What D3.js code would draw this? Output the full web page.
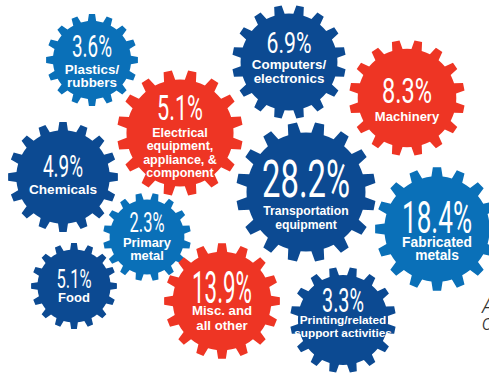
<!DOCTYPE html>
<html>
<head>
<meta charset="utf-8">
<script src="https://cdn.jsdelivr.net/npm/d3@7"></script>
<style>
  html, body { margin: 0; padding: 0; background: #ffffff; overflow: hidden; }
  svg { display: block; }
</style>
</head>
<body>
<svg id="chart" width="489" height="373"></svg>
<script>
// ---- data ----
const categories = [
  "Plastics/rubbers",
  "Electrical equipment, appliance, & component",
  "Computers/electronics",
  "Machinery",
  "Transportation equipment",
  "Fabricated metals",
  "Chemicals",
  "Primary metal",
  "Food",
  "Misc. and all other",
  "Printing/related support activities"
];
const shares = [3.6, 5.1, 6.9, 8.3, 28.2, 18.4, 4.9, 2.3, 5.1, 13.9, 3.3];
const labelLines = [
  ["Plastics/", "rubbers"],
  ["Electrical", "equipment,", "appliance, &", "component"],
  ["Computers/", "electronics"],
  ["Machinery"],
  ["Transportation", "equipment"],
  ["Fabricated", "metals"],
  ["Chemicals"],
  ["Primary", "metal"],
  ["Food"],
  ["Misc. and", "all other"],
  ["Printing/related", "support activities"]
];
const colorGroup = ["mid", "red", "navy", "red", "navy", "mid", "navy", "mid", "navy", "red", "navy"];

// ---- layout (hand-placed infographic) ----
// cx, cy, r, rot (fraction of pitch), pct baseline, pct cap height, pct width, first label baseline, line step, label size
const layout = [
  {cx: 92,  cy: 60,  r: 46, rot: 0,   pb: 57,  cap: 22, pw: 40, lb: 74,  ls: 13,   fs: 13.4},
  {cx: 180, cy: 133, r: 63, rot: 0.5, pb: 120, cap: 25, pw: 46, lb: 137, ls: 13.4, fs: 12.5},
  {cx: 289, cy: 62,  r: 57, rot: 0.5, pb: 53,  cap: 21, pw: 45, lb: 69,  ls: 14,   fs: 13.4},
  {cx: 407, cy: 98,  r: 58, rot: 0.5, pb: 103, cap: 25, pw: 50, lb: 121, ls: 14,   fs: 13},
  {cx: 306, cy: 192, r: 70, rot: 0.5, pb: 197, cap: 37, pw: 88, lb: 215, ls: 14,   fs: 12.2},
  {cx: 437, cy: 229, r: 62, rot: 0,   pb: 233, cap: 31, pw: 70, lb: 247, ls: 13,   fs: 13.8},
  {cx: 63,  cy: 177, r: 55, rot: 0,   pb: 177, cap: 22, pw: 40, lb: 194, ls: 14,   fs: 13.6},
  {cx: 147, cy: 237, r: 44, rot: 0.5, pb: 232, cap: 20, pw: 35, lb: 247, ls: 12.5, fs: 12.9},
  {cx: 74,  cy: 286, r: 43, rot: 0,   pb: 288, cap: 18, pw: 35, lb: 302, ls: 14,   fs: 13},
  {cx: 222, cy: 301, r: 58, rot: 0,   pb: 303, cap: 31, pw: 60, lb: 315, ls: 14.5, fs: 13.2},
  {cx: 343, cy: 320, r: 53, rot: 0.5, pb: 312, cap: 24, pw: 42, lb: 324, ls: 13,   fs: 11.8}
];

const color = d3.scaleOrdinal()
  .domain(["navy", "mid", "red"])
  .range(["#0c4a92", "#0a70b8", "#ee3524"]);

const svg = d3.select("#chart");

const TEETH = 16;
function gearPoints(r, rot) {
  const pitch = 2 * Math.PI / TEETH;
  const rootR = r * 0.85;
  const tipHalf = pitch * 0.17, baseHalf = pitch * 0.27;
  const pts = [];
  for (let i = 0; i < TEETH; i++) {
    const a = (i + rot) * pitch;
    pts.push([a - pitch / 2, rootR]);
    pts.push([a - baseHalf, rootR]);
    pts.push([a - tipHalf, r]);
    pts.push([a + tipHalf, r]);
    pts.push([a + baseHalf, rootR]);
  }
  return pts;
}
const radial = d3.lineRadial()
  .angle(d => d[0])
  .radius(d => d[1])
  .curve(d3.curveLinearClosed);

const items = categories.map((c, i) => ({
  name: c, value: shares[i], lines: labelLines[i], group: colorGroup[i], ...layout[i]
}));

const g = svg.selectAll("g.gear").data(items).join("g")
  .attr("class", "gear");

g.append("path")
  .attr("transform", d => `translate(${d.cx},${d.cy})`)
  .attr("d", d => radial(gearPoints(d.r, d.rot)))
  .attr("fill", d => color(d.group));

const fmt = d3.format(".1f");
g.append("text")
  .attr("x", d => d.cx)
  .attr("y", d => d.pb)
  .attr("text-anchor", "middle")
  .attr("font-family", "Roboto, 'Liberation Sans', sans-serif")
  .attr("font-weight", 400)
  .attr("font-size", d => d.cap / 0.711)
  .attr("textLength", d => d.pw)
  .attr("lengthAdjust", "spacingAndGlyphs")
  .attr("fill", "#ffffff")
  .text(d => fmt(d.value) + "%");

g.each(function(d) {
  d3.select(this).selectAll("text.lab").data(d.lines).join("text")
    .attr("class", "lab")
    .attr("x", d.cx)
    .attr("y", (t, j) => d.lb + j * d.ls)
    .attr("text-anchor", "middle")
    .attr("font-family", "'Liberation Sans', Arial, sans-serif")
    .attr("font-weight", 700)
    .attr("font-size", d.fs)
    .attr("fill", "#ffffff")
    .text(t => t);
});

// cut-off text at the right edge
const edgeText = ["A", "c"];
svg.selectAll("text.edge").data(edgeText).join("text")
  .attr("class", "edge")
  .attr("x", 482)
  .attr("y", (t, i) => 313 + i * 17)
  .attr("font-family", "Roboto, sans-serif")
  .attr("font-weight", 300)
  .attr("font-style", "italic")
  .attr("font-size", 22)
  .attr("fill", "#333333")
  .text(t => t);
</script>
</body>
</html>
